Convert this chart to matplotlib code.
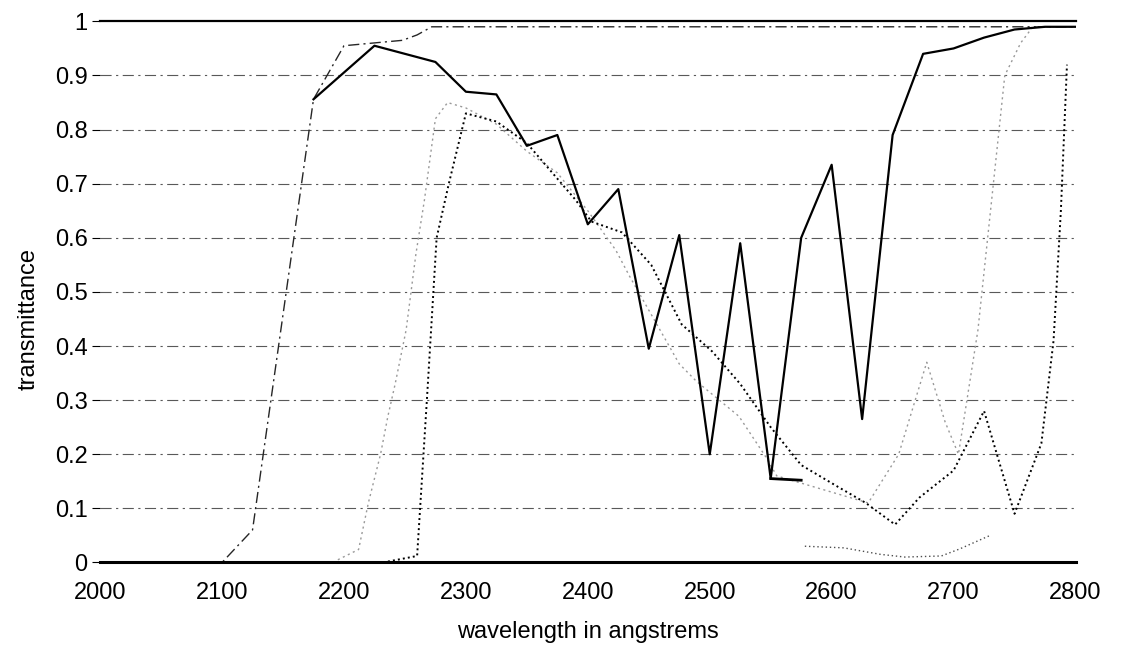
import matplotlib
matplotlib.use("Agg")
import matplotlib.pyplot as plt

plt.rcParams['font.family'] = ['Liberation Sans', 'DejaVu Sans']

# solid curve
solid_x = [2175, 2225, 2275, 2300, 2325, 2350, 2375, 2400, 2425, 2450, 2475, 2500,
           2525, 2550, 2575, 2600, 2625, 2650, 2675, 2700, 2725, 2750, 2775, 2800]
solid_y = [0.856, 0.955, 0.925, 0.87, 0.865, 0.77, 0.79, 0.625, 0.69, 0.395, 0.605, 0.2,
           0.59, 0.155, 0.60, 0.735, 0.265, 0.79, 0.94, 0.95, 0.97, 0.985, 0.99, 0.99]
# short flat piece near the 2550 dip
flat_x = [2550, 2575]
flat_y = [0.155, 0.152]

# dash-dot curve (first one to rise)
dashdot_x = [2000, 2100, 2125, 2175, 2200, 2248, 2260, 2272, 2800]
dashdot_y = [0.0, 0.0, 0.06, 0.856, 0.955, 0.965, 0.975, 0.99, 0.99]

# black dotted curve
dotted_x = [2232, 2260, 2268, 2276, 2286, 2300, 2325, 2350, 2390, 2403, 2428, 2452,
            2477, 2502, 2525, 2550, 2575, 2605, 2628, 2652, 2672, 2700, 2725, 2750,
            2772, 2782, 2788, 2793]
dotted_y = [0.0, 0.012, 0.30, 0.60, 0.70, 0.83, 0.815, 0.775, 0.67, 0.63, 0.61, 0.55,
            0.44, 0.39, 0.33, 0.25, 0.18, 0.14, 0.11, 0.07, 0.12, 0.17, 0.28, 0.09,
            0.22, 0.41, 0.65, 0.92]

# light grey dotted curve
grey_x = [2195, 2212, 2220, 2230, 2236, 2242, 2251, 2259, 2266, 2275, 2285, 2300,
          2325, 2350, 2375, 2400, 2423, 2434, 2475, 2489, 2524, 2546, 2555, 2600,
          2630, 2655, 2678, 2693, 2704, 2720, 2742, 2755, 2765, 2800]
grey_y = [0.005, 0.024, 0.11, 0.2, 0.27, 0.33, 0.43, 0.57, 0.67, 0.82, 0.85, 0.84,
          0.81, 0.76, 0.72, 0.65, 0.577, 0.53, 0.367, 0.335, 0.27, 0.195, 0.16, 0.13,
          0.11, 0.2, 0.37, 0.26, 0.2, 0.43, 0.9, 0.96, 0.99, 0.99]

# faint dotted trace close to zero
low_x = [2578, 2610, 2640, 2660, 2690, 2705, 2730]
low_y = [0.03, 0.027, 0.015, 0.01, 0.012, 0.025, 0.05]

yticks = [0, 0.1, 0.2, 0.3, 0.4, 0.5, 0.6, 0.7, 0.8, 0.9, 1]
ylabels = ['0', '0.1', '0.2', '0.3', '0.4', '0.5', '0.6', '0.7', '0.8', '0.9', '1']
xticks = [2000, 2100, 2200, 2300, 2400, 2500, 2600, 2700, 2800]

fig = plt.figure(figsize=(11.25, 6.48), dpi=100)
ax = fig.add_axes([0.089, 0.132, 0.867, 0.835])

# dash-dot horizontal grid lines
for g in yticks[1:-1]:
    ax.axhline(g, color='0.35', lw=0.8, ls=(0, (10, 4, 2, 4)), zorder=1)

ax.plot(dashdot_x, dashdot_y, color='0.15', lw=1.0, ls=(0, (8, 3, 1.5, 3)), zorder=2)
ax.plot(grey_x, grey_y, color='0.6', lw=1.0, ls=(0, (1.5, 2.5)), zorder=2)
ax.plot(dotted_x, dotted_y, color='black', lw=1.4, ls=(0, (1, 1.6)), zorder=3)
ax.plot(low_x, low_y, color='0.3', lw=1.0, ls=(0, (1, 2)), zorder=2)
ax.plot(solid_x, solid_y, color='black', lw=1.6, zorder=4)
ax.plot(flat_x, flat_y, color='black', lw=2.0, zorder=4)

ax.set_xlim(2000, 2800)
ax.set_ylim(0, 1)

for s in ['left', 'right']:
    ax.spines[s].set_visible(False)
ax.spines['top'].set_linewidth(1.6)
ax.spines['bottom'].set_linewidth(2.2)

ax.set_yticks(yticks)
ax.set_yticklabels(ylabels)
ax.set_xticks(xticks)
ax.tick_params(axis='y', length=6, width=0.8, pad=3, labelsize=17)
ax.tick_params(axis='x', length=0, pad=14, labelsize=17)

ax.set_xlabel('wavelength in angstrems', fontsize=17, labelpad=12)
ax.set_ylabel('transmittance', fontsize=17)
ax.yaxis.set_label_coords(-0.062, 0.45)

plt.savefig('out.png', dpi=100)
